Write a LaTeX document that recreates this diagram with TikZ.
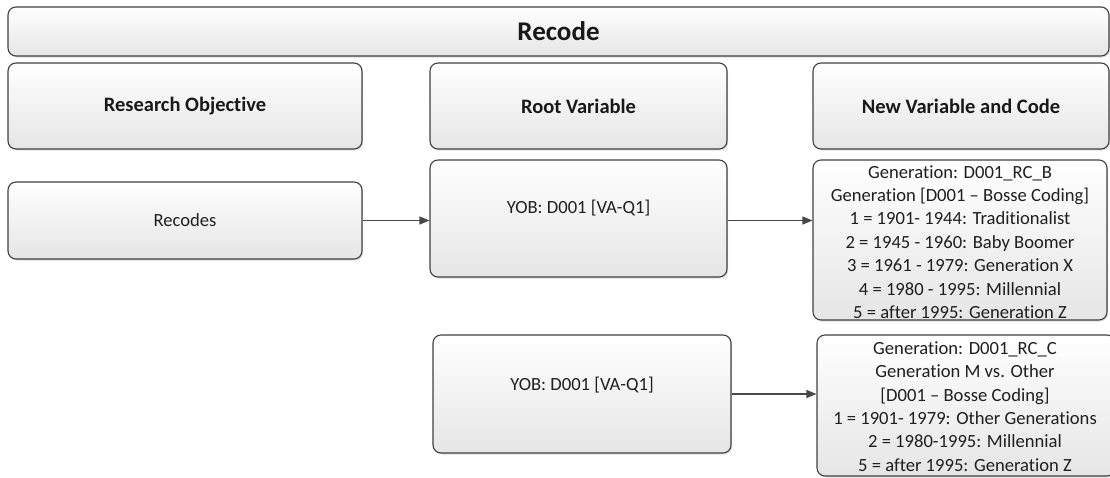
\documentclass[tikz,border=0pt]{standalone}
\usepackage{fontspec}
\setmainfont{Carlito}[Ligatures={NoCommon,NoRequired,NoContextual}]
\usetikzlibrary{arrows.meta,shadows,calc}
\tikzset{
  box/.style={draw=black!75, line width=1.1pt, rounded corners=8pt,
    top color=white, bottom color=black!10, inner sep=0pt,
    drop shadow={shadow xshift=1.2pt, shadow yshift=-1.5pt, opacity=0.22, fill=black!60}},
  titletxt/.style={font=\fontsize{27}{32}\selectfont\bfseries, text=black!90},
  headtxt/.style={font=\fontsize{20.5}{24}\selectfont\bfseries, text=black!90},
  bodytxt/.style={font=\fontsize{18.6}{23.4}\selectfont, text=black!88, align=center, inner sep=0pt},
  conn/.style={draw=black!72, line width=1.2pt, -{Triangle[length=10pt,width=8pt]}}
}
\begin{document}
\begin{tikzpicture}[x=1pt,y=-1pt]
\useasboundingbox (0,0) rectangle (1110,477);
\clip (0,0) rectangle (1110,477);
% title
\node[box, minimum width=1101pt, minimum height=49pt, titletxt] (title) at (558.5,31.5) {Recode};
% headers
\node[box, minimum width=354pt, minimum height=86pt, headtxt] (ro) at (185,106) {Research Objective};
\node[box, minimum width=297pt, minimum height=86pt, headtxt] (rv) at (578.5,106) {Root Variable};
\node[box, minimum width=296pt, minimum height=86pt, headtxt] (nv) at (961,106) {New Variable and Code};
% row 1
\node[box, minimum width=354pt, minimum height=77pt, bodytxt] (rec) at (185,220.5) {Recodes};
\node[box, minimum width=297pt, minimum height=117pt] (yob1) at (578.5,218.5) {};
\node[bodytxt] (yob1t) at (578.5,208) {YOB: D001 [VA-Q1]};
\node[box, minimum width=294pt, minimum height=160pt] (rcb) at (960,240) {};
\node[bodytxt] (rcbt) at (960,242) {Generation: D001\_RC\_B\\
Generation [D001 – Bosse Coding]\\
1 = 1901- 1944: Traditionalist\\
2 = 1945 - 1960: Baby Boomer\\
3 = 1961 - 1979: Generation X\\
4 = 1980 - 1995: Millennial\\
5 = after 1995: Generation Z};
% row 2
\node[box, minimum width=298pt, minimum height=118pt] (yob2) at (582,394) {};
\node[bodytxt] (yob2t) at (582,385) {YOB: D001 [VA-Q1]};
\node[box, minimum width=298pt, minimum height=141pt] (rcc) at (966,405.5) {};
\node[bodytxt] (rcct) at (965,406.5) {Generation: D001\_RC\_C\\
Generation M vs. Other\\
{[D001 – Bosse Coding]}\\
1 = 1901- 1979: Other Generations\\
2 = 1980-1995: Millennial\\
5 = after 1995: Generation Z};
% connectors
\draw[conn] (rec.east) -- (rec.east -| yob1.west);
\draw[conn] (yob1.east |- rec.east) -- (rec.east -| rcb.west);
\draw[conn] (yob2.east) -- (yob2.east -| rcc.west);
\end{tikzpicture}
\end{document}
